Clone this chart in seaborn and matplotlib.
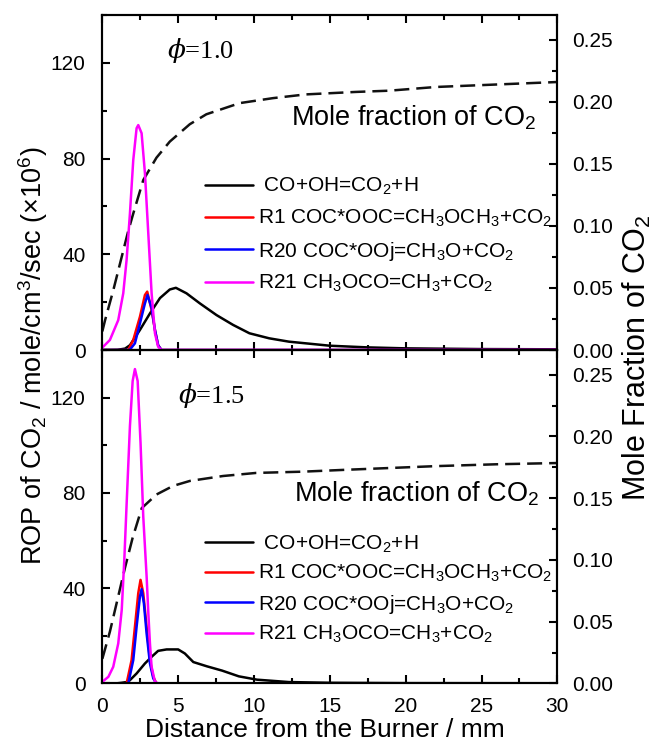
import numpy as np
import pandas as pd
import matplotlib
matplotlib.use("Agg")
import matplotlib.pyplot as plt
import seaborn as sns
from matplotlib.ticker import MultipleLocator, FormatStrFormatter

# ---------------- data ----------------
# phi = 1.0 panel
x_co_t = [0, 1.0, 1.5, 1.82, 2.48, 3.14, 3.8, 4.45, 4.85, 5.55, 6.43, 7.53, 8.62, 9.7, 11.0, 12.3, 15, 17.5, 20, 25, 30]
co_t = [0, 0.1, 0.6, 2, 8.4, 15.3, 21.7, 25.3, 26.0, 23.7, 19.5, 14.6, 10.5, 7, 4.9, 3.5, 1.8, 1.1, 0.7, 0.4, 0.3]
x_r1_t = [0, 1.71, 2.04, 2.48, 2.81, 2.96, 3.25, 3.47, 3.68, 3.9, 30]
r1_t = [0, 0, 4.2, 13.9, 23, 24.4, 16.7, 8.4, 2, 0, 0]
x_r20_t = [0, 1.8, 2.15, 2.48, 2.81, 2.98, 3.25, 3.47, 3.68, 3.9, 30]
r20_t = [0, 0, 2.8, 11.1, 19.5, 23, 17.6, 8.4, 2, 0, 0]
x_r21_t = [0, 0.5, 1.05, 1.38, 1.6, 1.82, 2.04, 2.26, 2.37, 2.59, 2.81, 3.03, 3.25, 3.47, 3.68, 3.9, 30]
r21_t = [1.0, 4.2, 12.5, 23.7, 37.6, 57, 79.4, 92.7, 94, 90.6, 73.9, 48.8, 23.7, 7, 1.4, 0, 0]
x_mf_t = [0, 0.18, 0.72, 1.38, 1.71, 2.04, 2.7, 3.57, 4.45, 5.77, 6.86, 9.06, 11.25, 13.4, 16.7, 18.9, 22, 26, 30]
mf_t = [0.015, 0.024, 0.048, 0.080, 0.096, 0.110, 0.137, 0.155, 0.168, 0.182, 0.190, 0.199, 0.203, 0.206, 0.208, 0.209, 0.212, 0.214, 0.216]

# phi = 1.5 panel
x_co_b = [0, 1.0, 1.28, 1.71, 2.26, 2.81, 3.25, 3.68, 4.24, 5.0, 5.44, 6.0, 6.9, 7.9, 9.0, 10.2, 12.3, 15, 20, 30]
co_b = [0, 0.1, 0.3, 0.7, 4.2, 8.4, 11.2, 13.7, 14.3, 14.3, 12.6, 9, 7.2, 5.4, 3, 1.6, 0.6, 0.3, 0.15, 0.1]
x_r1_b = [0, 1.6, 1.93, 2.15, 2.37, 2.52, 2.7, 2.92, 3.14, 3.36, 3.57, 30]
r1_b = [0, 0, 9.8, 23.8, 37.9, 43.5, 37.9, 23.8, 9.8, 2.8, 0, 0]
x_r20_b = [0, 1.71, 2.04, 2.26, 2.48, 2.59, 2.74, 2.92, 3.14, 3.36, 3.57, 30]
r20_b = [0, 0, 9.8, 23.8, 36.5, 39.6, 33.7, 21, 8.4, 2.1, 0, 0]
x_r21_b = [0, 0.4, 0.72, 1.05, 1.28, 1.45, 1.6, 1.82, 2.0, 2.15, 2.33, 2.52, 2.7, 2.92, 3.03, 3.14, 3.25, 3.47, 3.7, 30]
r21_b = [0.7, 2.8, 7, 16.8, 30.9, 52, 75, 108, 127, 132, 127, 101, 70, 45, 30, 16.8, 7, 0.7, 0, 0]
x_mf_b = [0, 0.07, 0.5, 1.0, 1.5, 2.0, 2.6, 3.57, 4.67, 5.77, 7.96, 10.15, 13.2, 16, 19, 22, 26, 30]
mf_b = [0.02, 0.023, 0.042, 0.068, 0.094, 0.118, 0.142, 0.153, 0.160, 0.164, 0.168, 0.1705, 0.1715, 0.173, 0.1745, 0.176, 0.1775, 0.1785]

labels = [" CO+OH=CO$_2$+H",
          "R1 COC*OOC=CH$_3$OCH$_3$+CO$_2$",
          "R20 COC*OOj=CH$_3$O+CO$_2$",
          "R21 CH$_3$OCO=CH$_3$+CO$_2$"]
colors = ["#000000", "#FF0000", "#0000FF", "#FF00FF"]
phi_labels = [r"$\phi$=1.0", r"$\phi$=1.5"]
mf_text = "Mole fraction of CO$_2$"

# ---------------- style ----------------
sns.set_style("ticks")
plt.rcParams["font.family"] = ["Liberation Sans", "DejaVu Sans"]
plt.rcParams["mathtext.fontset"] = "custom"
plt.rcParams["mathtext.rm"] = "Liberation Sans"
plt.rcParams["mathtext.it"] = "DejaVu Serif:italic"
plt.rcParams["mathtext.bf"] = "Liberation Sans:bold"
plt.rcParams["axes.linewidth"] = 1.5
for k in ["text.color", "axes.labelcolor", "xtick.color", "ytick.color", "axes.edgecolor"]:
    plt.rcParams[k] = "black"

fig = plt.figure(figsize=(6.67, 7.43), dpi=100)
ax_t = fig.add_axes([0.1534, 0.5289, 0.6822, 0.4509])
ax_b = fig.add_axes([0.1534, 0.0801, 0.6822, 0.4488])

panels = [
    (ax_t, [(x_co_t, co_t), (x_r1_t, r1_t), (x_r20_t, r20_t), (x_r21_t, r21_t)], (x_mf_t, mf_t)),
    (ax_b, [(x_co_b, co_b), (x_r1_b, r1_b), (x_r20_b, r20_b), (x_r21_b, r21_b)], (x_mf_b, mf_b)),
]

lw = 1.8
tick_fs = 15
for i, (ax, series, mf) in enumerate(panels):
    handles = []
    for (xs, ys), c, lab in zip(series, colors, labels):
        df = pd.DataFrame({"x": xs, "y": ys})
        sns.lineplot(data=df, x="x", y="y", ax=ax, color=c, lw=lw, legend=False)
        handles.append(ax.get_lines()[-1])
    ax2 = ax.twinx()
    dfm = pd.DataFrame({"x": mf[0], "y": mf[1]})
    sns.lineplot(data=dfm, x="x", y="y", ax=ax2, color="#111111", lw=lw, legend=False)
    ax2.get_lines()[-1].set_dashes((6, 2.8))

    ax.set_xlim(0, 30)
    ax.set_ylim(0, 140)
    ax2.set_ylim(0, 0.27)
    ax.xaxis.set_major_locator(MultipleLocator(5))
    ax.xaxis.set_minor_locator(MultipleLocator(2.5))
    ax.yaxis.set_major_locator(MultipleLocator(40))
    ax.yaxis.set_minor_locator(MultipleLocator(20))
    ax2.yaxis.set_major_locator(MultipleLocator(0.05))
    ax2.yaxis.set_minor_locator(MultipleLocator(0.025))
    ax2.yaxis.set_major_formatter(FormatStrFormatter("%.2f"))
    ax.set_xlabel("")
    ax.set_ylabel("")
    ax2.set_ylabel("")
    ax.tick_params(which="both", direction="in", top=True, right=False,
                   width=1.5, labelsize=tick_fs, colors="black")
    ax.tick_params(axis="x", which="both", pad=10)
    ax.tick_params(axis="y", which="both", pad=12)
    ax.tick_params(which="major", length=6)
    ax.tick_params(which="minor", length=3.5)
    ax2.tick_params(which="both", direction="in", right=True, left=False,
                    width=1.5, labelsize=tick_fs, colors="black", pad=10.5)
    ax2.tick_params(which="major", length=6)
    ax2.tick_params(which="minor", length=3.5)
    for a in (ax, ax2):
        for s in a.spines.values():
            s.set_linewidth(1.5)
            s.set_color("black")

    if i == 0:
        ax.tick_params(labelbottom=False)
        leg_y = 0.519
        spacing = 0.5
        ax.text(4.25, 125, phi_labels[0], fontsize=19, family="Liberation Serif",
                ha="left", va="center")
        ax.text(28.6, 94, mf_text, fontsize=19.5, ha="right", va="baseline")
    else:
        leg_y = 0.45
        spacing = 0.4
        ax.text(5.0, 121, phi_labels[1], fontsize=19, family="Liberation Serif",
                ha="left", va="center")
        ax.text(28.8, 76.3, mf_text, fontsize=19.5, ha="right", va="baseline")

    ax.legend(handles, labels, loc="upper left", bbox_to_anchor=(0.2257, leg_y),
              frameon=False, fontsize=15, borderpad=0, borderaxespad=0,
              handlelength=2.3, handletextpad=0.24, labelspacing=spacing)
    ax.set_zorder(ax2.get_zorder() + 1)
    ax.patch.set_visible(False)

fig.text(33 / 667, 1 - 356 / 743, "ROP of CO$_2$ / mole/cm$^3$/sec (×10$^6$)",
         rotation=90, ha="center", va="center", fontsize=19.5)
fig.text(637 / 667, 1 - 358 / 743, "Mole Fraction of CO$_2$",
         rotation=90, ha="center", va="center", fontsize=22)
fig.text(325 / 667, 1 - 737 / 743, "Distance from the Burner / mm",
         ha="center", va="baseline", fontsize=19)

fig.savefig("out.png", dpi=100)
